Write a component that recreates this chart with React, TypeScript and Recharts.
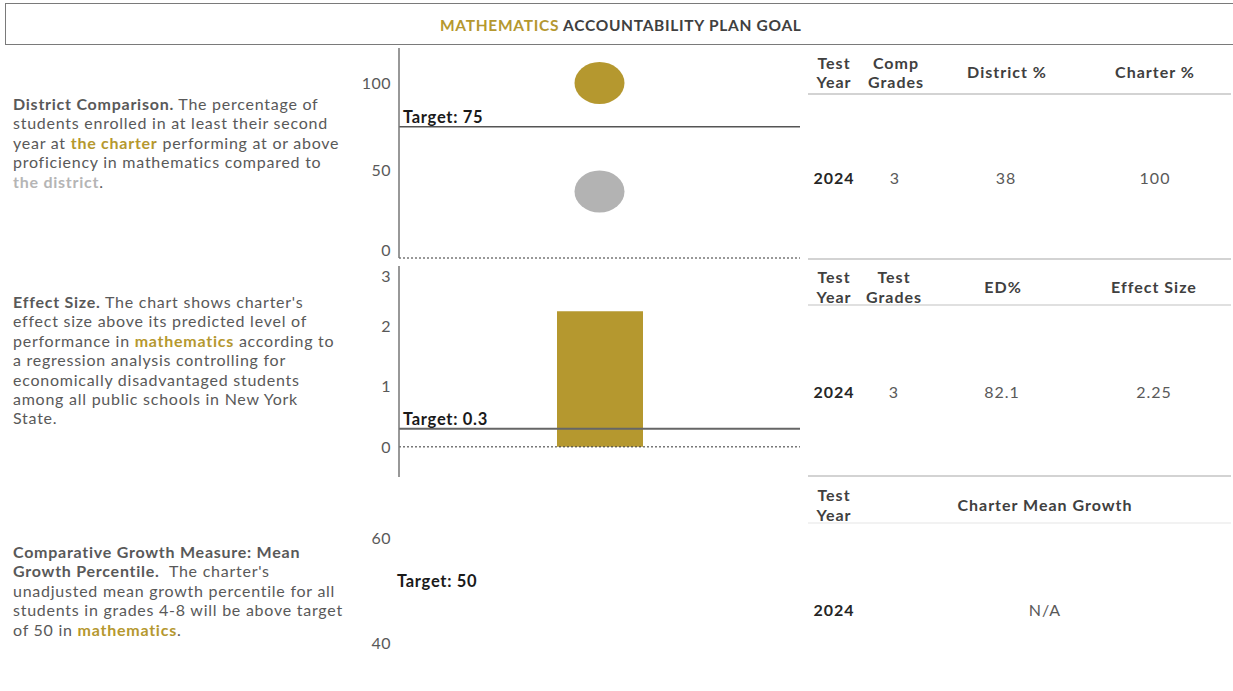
import React from 'react';
import {
  Bar,
  ComposedChart,
  Line,
  ReferenceLine,
  Scatter,
  XAxis,
  YAxis,
} from 'recharts';

// ---- data ----
const years = ['2024'];
const charterPct = [100];
const districtPct = [38];
const compGrades = ['3'];
const edPct = ['82.1'];
const effectSize = [2.25];
const meanGrowth: (number | null)[] = [null];

const proficiencyTicks = [0, 50, 100];
const effectTicks = [0, 1, 2, 3];
const growthTicks = [40, 60];

const proficiencyTarget = 75;
const effectTarget = 0.3;
const growthTarget = 50;

const GOLD = '#B5982F';
const GREY_DOT = '#B3B3B3';
const TEXT = '#595959';
const DARK = '#404040';
const FONT = 'Lato, "Open Sans", sans-serif';

const proficiencyData = years.map((y, i) => ({ year: y, charter: charterPct[i], district: districtPct[i] }));
const effectData = years.map((y, i) => ({ year: y, effect: effectSize[i] }));
const growthData = years.map((y, i) => ({ year: y, growth: meanGrowth[i] }));

const targetLabel = (value: string) => ({
  value,
  position: 'insideBottomLeft' as const,
  offset: 4,
  fill: '#1a1a1a',
  fontSize: 16.5,
  fontWeight: 700,
  fontFamily: FONT,
  style: { letterSpacing: '0.7px' },
});

const Ellipse = (color: string) => (props: any) => {
  const { cx, cy } = props;
  if (cx == null || cy == null) return null;
  return <ellipse cx={cx} cy={cy} rx={25} ry={21} fill={color} />;
};

// tick labels that are pushed inside the chart when they sit on its edge
const clampTick = (lo: number, hi: number) => (props: any) => {
  const { x, y, payload } = props;
  const yy = Math.min(Math.max(y, lo), hi);
  return (
    <text x={x} y={yy} dy="0.355em" textAnchor="end" fill={TEXT} fontSize={16} fontFamily={FONT} style={{ letterSpacing: '0.5px' }}>
      {payload.value}
    </text>
  );
};

// text placed by its centre point
const T = ({ x, y, children, bold, color, align = 'center' }: any) => (
  <div
    style={{
      position: 'absolute',
      left: x,
      top: y,
      transform: `translate(${align === 'center' ? '-50%' : '0'}, -50%)`,
      whiteSpace: 'nowrap',
      fontWeight: bold ? 700 : 400,
      color: color || (bold ? DARK : TEXT),
      fontSize: 16,
      letterSpacing: '1px',
    }}
  >
    {children}
  </div>
);

const HLine = ({ y, x1 = 808, x2 = 1231, color = '#d3d3d3' }: any) => (
  <div style={{ position: 'absolute', left: x1, top: y, width: x2 - x1, height: 1.5, background: color }} />
);

const para: React.CSSProperties = {
  position: 'absolute',
  left: 13,
  fontSize: 16,
  letterSpacing: '0.75px',
  lineHeight: '19.4px',
  color: TEXT,
  whiteSpace: 'nowrap',
};

export default function App() {
  return (
    <div style={{ position: 'absolute', left: 0, top: 0, width: 1233, height: 691, background: '#fff', fontFamily: FONT, overflow: 'hidden' }}>
      {/* title box */}
      <div style={{ position: 'absolute', left: 5, top: 3, width: 1240, height: 40, border: '1px solid #7a7a7a' }}>
        <div style={{ position: 'absolute', left: 434, top: 0, height: 40, lineHeight: '42px', fontSize: 15.5, letterSpacing: '0.7px', fontWeight: 700, color: DARK, whiteSpace: 'nowrap' }}>
          <span style={{ color: GOLD }}>MATHEMATICS</span> ACCOUNTABILITY PLAN GOAL
        </div>
      </div>

      {/* descriptions */}
      <div style={{ ...para, top: 94 }}>
        <b>District Comparison.</b> The percentage of<br />
        students enrolled in at least their second<br />
        year at <b style={{ color: GOLD }}>the charter</b> performing at or above<br />
        proficiency in mathematics compared to<br />
        <b style={{ color: '#b5b5b5' }}>the district</b>.
      </div>
      <div style={{ ...para, top: 292 }}>
        <b>Effect Size.</b> The chart shows charter's<br />
        effect size above its predicted level of<br />
        performance in <b style={{ color: GOLD }}>mathematics</b> according to<br />
        a regression analysis controlling for<br />
        economically disadvantaged students<br />
        among all public schools in New York<br />
        State.
      </div>
      <div style={{ ...para, top: 542 }}>
        <b>Comparative Growth Measure: Mean</b><br />
        <b>Growth Percentile.</b>&nbsp; The charter's<br />
        unadjusted mean growth percentile for all<br />
        students in grades 4-8 will be above target<br />
        of 50 in <b style={{ color: GOLD }}>mathematics</b>.
      </div>

      {/* chart 1: district comparison */}
      <div style={{ position: 'absolute', left: 340, top: 48 }}>
        <ComposedChart width={462} height={212} data={proficiencyData} margin={{ top: 0, right: 2, bottom: 2, left: 0 }}>
          <XAxis dataKey="year" type="category" hide />
          <YAxis
            domain={[0, 120]}
            ticks={proficiencyTicks}
            interval={0}
            width={59}
            tickLine={false}
            axisLine={{ stroke: '#767676', strokeWidth: 1.5 }}
            tick={clampTick(10, 202)}
          />
          <ReferenceLine y={0} stroke="#333" strokeDasharray="2 2" strokeWidth={1} />
          <ReferenceLine y={proficiencyTarget} stroke="#555" strokeWidth={1.6} label={targetLabel(`Target: ${proficiencyTarget}`)} />
          <Scatter dataKey="district" fill={GREY_DOT} shape={Ellipse(GREY_DOT)} isAnimationActive={false} />
          <Scatter dataKey="charter" fill={GOLD} shape={Ellipse(GOLD)} isAnimationActive={false} />
        </ComposedChart>
      </div>

      {/* chart 2: effect size */}
      <div style={{ position: 'absolute', left: 340, top: 266 }}>
        <ComposedChart width={462} height={211} data={effectData} margin={{ top: 0, right: 2, bottom: 0, left: 0 }}>
          <XAxis dataKey="year" type="category" hide />
          <YAxis
            domain={[-0.5, 3]}
            ticks={effectTicks}
            interval={0}
            width={59}
            tickLine={false}
            axisLine={{ stroke: '#767676', strokeWidth: 1.5 }}
            tick={clampTick(10, 200)}
          />
          <Bar dataKey="effect" fill={GOLD} barSize={86} isAnimationActive={false} />
          <ReferenceLine y={0} stroke="#333" strokeDasharray="2 2" strokeWidth={1} />
          <ReferenceLine y={effectTarget} stroke="#666" strokeWidth={1.8} label={targetLabel(`Target: ${effectTarget}`)} />
        </ComposedChart>
      </div>

      {/* chart 3: mean growth percentile */}
      <div style={{ position: 'absolute', left: 340, top: 520 }}>
        <ComposedChart width={462} height={141} data={growthData} margin={{ top: 18, right: 2, bottom: 18, left: 0 }}>
          <XAxis dataKey="year" type="category" hide />
          <YAxis
            domain={[40, 60]}
            allowDataOverflow
            ticks={growthTicks}
            interval={0}
            width={59}
            tickLine={false}
            axisLine={false}
            tick={clampTick(0, 200)}
          />
          <ReferenceLine y={growthTarget} stroke="none" ifOverflow="visible" label={{ ...targetLabel(`Target: ${growthTarget}`), dx: -6 }} />
          <Line dataKey="growth" stroke={GOLD} isAnimationActive={false} />
        </ComposedChart>
      </div>

      {/* table 1 */}
      <T x={834} y={62} bold>Test</T>
      <T x={834} y={81} bold>Year</T>
      <T x={896} y={62} bold>Comp</T>
      <T x={896} y={81} bold>Grades</T>
      <T x={1007} y={71} bold>District %</T>
      <T x={1155} y={71} bold>Charter %</T>
      <HLine y={93} />
      {years.map((y, i) => (
        <React.Fragment key={`t1-${y}`}>
          <T x={834} y={177} bold color="#262626">{y}</T>
          <T x={895} y={177}>{compGrades[i]}</T>
          <T x={1006} y={177}>{districtPct[i]}</T>
          <T x={1155} y={177}>{charterPct[i]}</T>
        </React.Fragment>
      ))}
      <HLine y={258} />

      {/* table 2 */}
      <T x={834} y={276} bold>Test</T>
      <T x={834} y={296} bold>Year</T>
      <T x={894} y={276} bold>Test</T>
      <T x={894} y={296} bold>Grades</T>
      <T x={1003} y={286} bold>ED%</T>
      <T x={1154} y={286} bold>Effect Size</T>
      <HLine y={304} color="#e0e0e0" />
      {years.map((y, i) => (
        <React.Fragment key={`t2-${y}`}>
          <T x={834} y={391} bold color="#262626">{y}</T>
          <T x={894} y={391}>{compGrades[i]}</T>
          <T x={1002} y={391}>{edPct[i]}</T>
          <T x={1154} y={391}>{effectSize[i]}</T>
        </React.Fragment>
      ))}
      <HLine y={475} />

      {/* table 3 */}
      <T x={834} y={494} bold>Test</T>
      <T x={834} y={514} bold>Year</T>
      <T x={1045} y={504} bold>Charter Mean Growth</T>
      <HLine y={522} color="#f2f2f2" />
      {years.map((y, i) => (
        <React.Fragment key={`t3-${y}`}>
          <T x={834} y={609} bold color="#262626">{y}</T>
          <T x={1045} y={609}>{meanGrowth[i] == null ? 'N/A' : meanGrowth[i]}</T>
        </React.Fragment>
      ))}
    </div>
  );
}
